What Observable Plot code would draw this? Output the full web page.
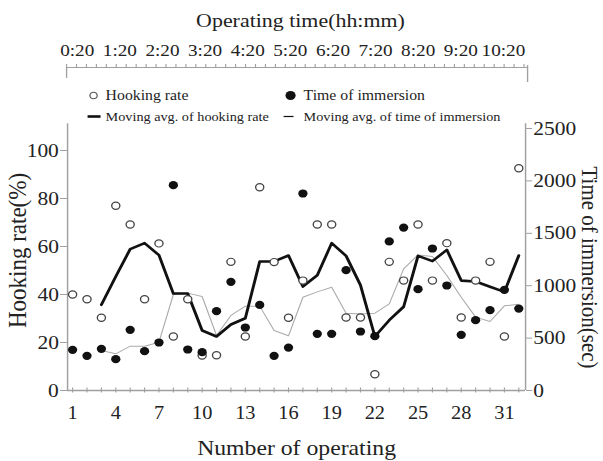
<!DOCTYPE html>
<html><head><meta charset="utf-8">
<script src="https://cdn.jsdelivr.net/npm/d3@7"></script>
<script src="https://cdn.jsdelivr.net/npm/@observablehq/plot@0.6"></script>
<style>
body{margin:0;background:#fff;}
#chart{position:relative;width:603px;height:461px;background:#fff;overflow:hidden;}
#chart svg{position:absolute;left:0;top:0;}
</style></head><body><div id="chart"></div>
<script>
// ---- data ----
const ops = [1,2,3,4,5,6,7,8,9,10,11,12,13,14,15,16,17,18,19,20,21,22,23,24,25,26,27,28,29,30,31,32];
const hookingRate = [40,38,30.3,77,69.2,38,61.3,22.5,38,14.6,14.7,53.6,22.5,84.7,53.5,30.3,45.8,69.2,69.2,30.4,30.4,6.8,53.6,45.8,69.2,45.8,61.4,30.4,45.8,53.6,22.5,92.6];
const immersionTime = [388,331,398,299,579,375,458,1959,391,366,757,1037,601,817,331,410,1880,541,541,1148,563,518,1422,1555,967,1355,1002,531,671,766,961,782];
const maOps = [3,4,5,6,7,8,9,10,11,12,13,14,15,16,17,18,19,20,21,22,23,24,25,26,27,28,29,30,31,32];
const maHookingRate = [35.7,47.5,58.9,61.4,56.4,40.4,40.4,25,22.5,27.5,30.1,53.75,53.8,56.25,43.3,48,61.4,56.1,43.9,22.5,29.3,34.9,56.1,53.9,58.6,45.8,45.4,43.2,41.1,56.25];
const maImmersionTime = [382,350,423,423,461,916,929,897,525,716,805,805,573,522,890,941,986,738,731,738,827,1161,1294,1278,1097,890,700,658,808,823];
const leftTicks = [0,20,40,60,80,100];
const rightTicks = [0,500,1000,1500,2000,2500];
const bottomTicks = [1,4,7,10,13,16,19,22,25,28,31];
const timeTickMinutes = [20,80,140,200,260,320,380,440,500,560,620];
const timeTickLabels = ["0:20","1:20","2:20","3:20","4:20","5:20","6:20","7:20","8:20","9:20","10:20"];

// ---- layout ----
const S = 1.13;              // horizontal stretch of the original figure
const W = 603 / S;
const FONT = "'Liberation Serif', 'Times New Roman', serif";
const yMax = 109.17;
const k = yMax / 2500;
const xDomain = [0.65, 32.47];
const TXT = "#222", AX = "#a0a0a0";

const hookData = ops.map((o, i) => ({op: o, v: hookingRate[i]}));
const timeData = ops.map((o, i) => ({op: o, v: immersionTime[i]}));
const maHookData = maOps.map((o, i) => ({op: o, v: maHookingRate[i]}));
const maTimeData = maOps.map((o, i) => ({op: o, v: maImmersionTime[i]}));

function stretch(svg, h) {
  svg.setAttribute("width", 603);
  svg.setAttribute("height", h);
  svg.setAttribute("preserveAspectRatio", "none");
  svg.style.width = "603px";
  svg.style.height = h + "px";
  svg.style.maxWidth = "none";
  svg.style.background = "transparent";
  return svg;
}

const mL = 67 / S, mR = (603 - 525) / S;
const mainPlot = Plot.plot({
  width: W, height: 461,
  marginLeft: mL, marginRight: mR, marginTop: 128, marginBottom: 71,
  style: {fontFamily: FONT, background: "transparent", color: TXT, overflow: "visible"},
  x: {domain: xDomain, label: null},
  y: {domain: [0, yMax], label: null},
  marks: [
    Plot.ruleY([0], {stroke: AX, strokeWidth: 1.3}),
    Plot.ruleX([xDomain[0], xDomain[1]], {y1: 0, y2: yMax + 2, stroke: AX, strokeWidth: 1.3}),
    Plot.axisY(leftTicks, {anchor: "left", label: null, tickSize: 6.2, tickPadding: 1.5, fontSize: 19, stroke: AX, fill: TXT}),
    Plot.axisY(rightTicks.map(v => v * k), {anchor: "right", label: null, tickSize: 5.3, tickPadding: 1.5, fontSize: 19,
      tickFormat: v => String(Math.round(v / k)), stroke: AX, fill: TXT}),
    Plot.axisX(ops, {anchor: "bottom", label: null, tickSize: 5, dy: -2.5, tickFormat: () => "", stroke: AX}),
    Plot.axisX(bottomTicks, {anchor: "bottom", label: null, tickSize: 0, tickPadding: 16, fontSize: 18, fill: TXT}),
    Plot.line(maTimeData, {x: "op", y: d => d.v * k, stroke: "#ababab", strokeWidth: 1}),
    Plot.line(maHookData, {x: "op", y: "v", stroke: "#111", strokeWidth: 2.6}),
    Plot.dot(hookData, {x: "op", y: "v", r: 3.6, stroke: "#444", fill: "white", strokeWidth: 1.2}),
    Plot.dot(timeData, {x: "op", y: d => d.v * k, r: 4.1, fill: "#111"}),
    Plot.text(["Hooking rate(%)"], {frameAnchor: "left", textAnchor: "middle", lineAnchor: "middle",
      dx: 17 / S - mL, dy: -9, rotate: -90, fontSize: 23, fill: TXT}),
    Plot.text(["Time of immersion(sec)"], {frameAnchor: "right", textAnchor: "middle", lineAnchor: "middle",
      dx: 589 / S - (W - mR), dy: 8, rotate: 90, fontSize: 21, fill: TXT}),
    Plot.text(["Number of operating"], {frameAnchor: "bottom", textAnchor: "middle", lineAnchor: "middle", dy: 58, fontSize: 21, fill: TXT})
  ]
});

const hline = hw => ({draw(ctx) { ctx.moveTo(-hw, 0); ctx.lineTo(hw, 0); }});
const tL = 66 / S, tR = (603 - 527) / S;
const lx = px => px / S - tL;
const legendText = {frameAnchor: "top-left", textAnchor: "start", lineAnchor: "middle", fill: TXT};
const topAxisPlot = Plot.plot({
  width: W, height: 125,
  marginLeft: tL, marginRight: tR, marginTop: 67, marginBottom: 43,
  style: {fontFamily: FONT, background: "transparent", color: TXT, overflow: "visible"},
  x: {domain: [5, 654], axis: null},
  y: {domain: [0, 1], axis: null},
  marks: [
    Plot.ruleY([1], {stroke: AX, strokeWidth: 1.2}),
    Plot.ruleX(d3.range(5, 654, 14), {y1: 1, y2: 1.2, stroke: AX}),
    Plot.ruleX([5], {y1: 1, y2: 0.27, stroke: AX, strokeWidth: 1.2}),
    Plot.ruleX([654], {y1: 1.13, y2: 0, stroke: AX, strokeWidth: 1.2}),
    Plot.text(timeTickLabels, {x: (d, i) => timeTickMinutes[i], frameAnchor: "top", lineAnchor: "middle", dy: -17, fontSize: 17, fill: TXT}),
    Plot.text(["Operating time(hh:mm)"], {frameAnchor: "top", textAnchor: "middle", lineAnchor: "middle", dx: 3, dy: -47, fontSize: 19.4, fill: TXT}),
    // legend
    Plot.dot([0], {frameAnchor: "top-left", dx: lx(93), dy: 28, r: 3.2, stroke: "#555", fill: "white", strokeWidth: 1.1}),
    Plot.text(["Hooking rate"], {...legendText, dx: lx(105), dy: 28, fontSize: 14}),
    Plot.dot([0], {frameAnchor: "top-left", dx: lx(290), dy: 28, r: 4.5, fill: "#111"}),
    Plot.text(["Time of immersion"], {...legendText, dx: lx(303), dy: 28, fontSize: 14}),
    Plot.dot([0], {frameAnchor: "top-left", dx: lx(93.5), dy: 49, symbol: hline(5.75), stroke: "#111", strokeWidth: 2.6, fill: "none"}),
    Plot.text(["Moving avg. of hooking rate"], {...legendText, dx: lx(105), dy: 49, fontSize: 12.6}),
    Plot.dot([0], {frameAnchor: "top-left", dx: lx(288), dy: 49, symbol: hline(4.4), stroke: "#111", strokeWidth: 1.2, fill: "none"}),
    Plot.text(["Moving avg. of time of immersion"], {...legendText, dx: lx(303), dy: 49, fontSize: 12.6})
  ]
});

const chart = document.getElementById("chart");
chart.appendChild(stretch(mainPlot, 461));
chart.appendChild(stretch(topAxisPlot, 125));
</script></body></html>
